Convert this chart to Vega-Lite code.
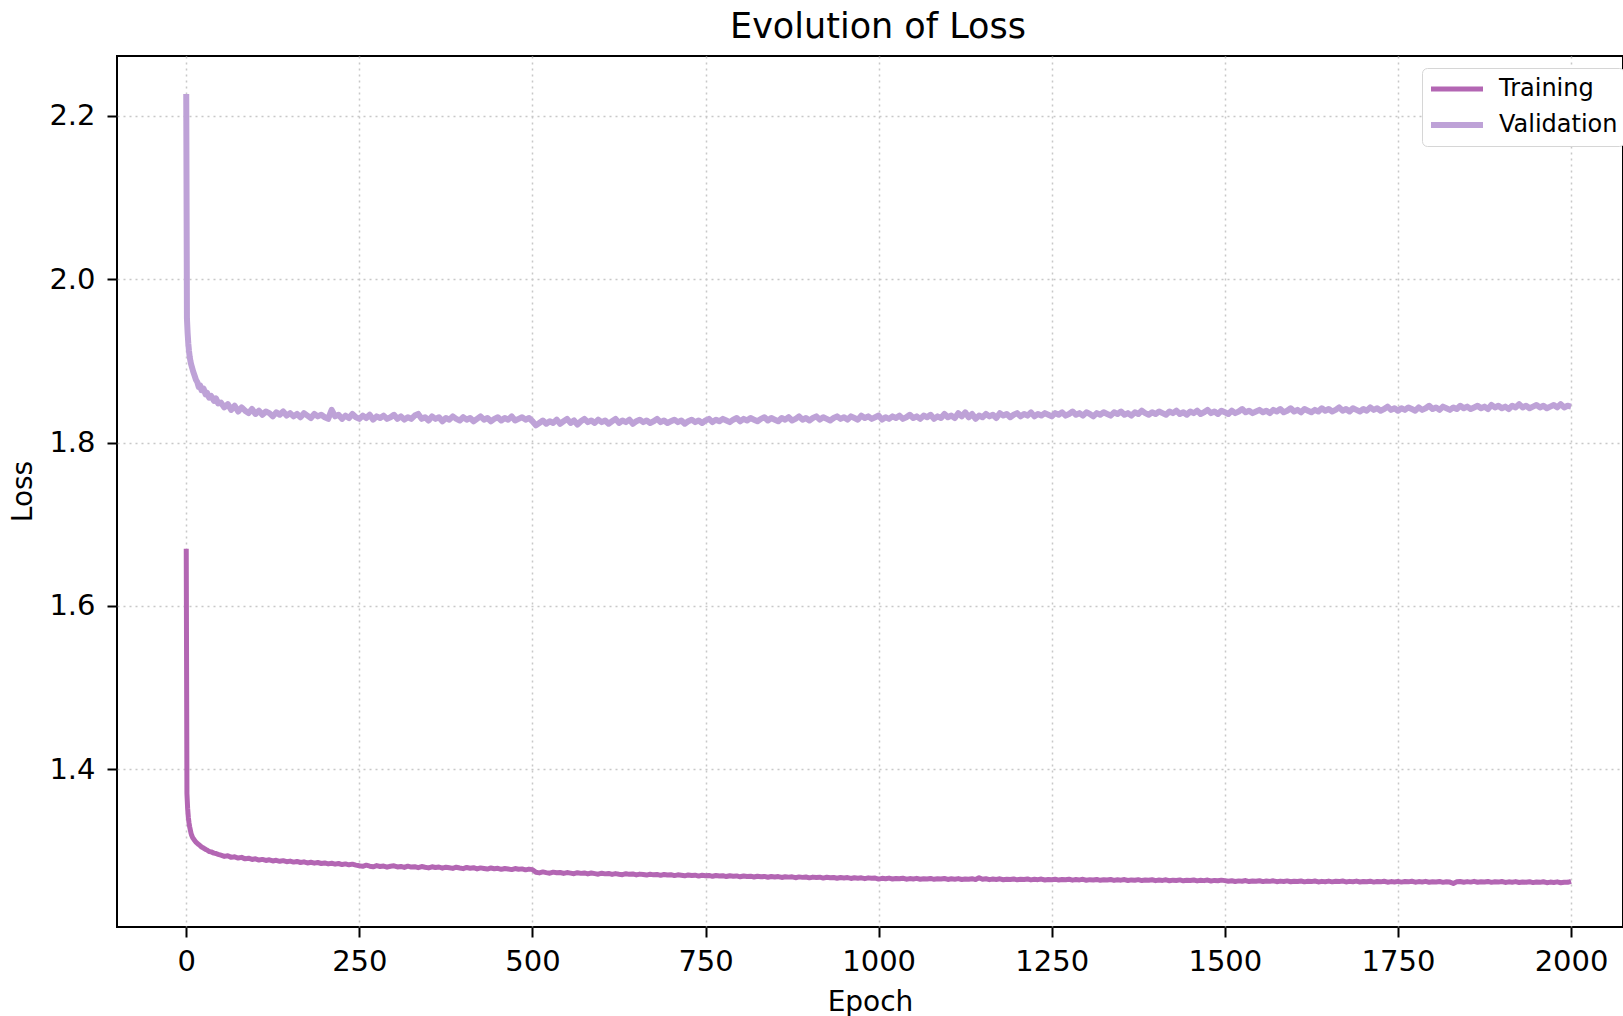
{
"$schema": "https://vega.github.io/schema/vega-lite/v6.json",
"width": 1506,
"height": 871,
"autosize": {"type": "none"},
"padding": {"left": 117, "top": 56, "right": 0, "bottom": 89},
"background": "white",
"config": {"font": "DejaVu Sans", "view": {"stroke": "black", "strokeWidth": 2}},
"title": {"text": "Evolution of Loss", "fontSize": 35, "fontWeight": "normal", "font": "DejaVu Sans", "color": "black", "anchor": "middle", "dx": 8, "dy": 34, "offset": 17, "baseline": "alphabetic"},
"data": {"values": [
{"e":0,"Training":1.670,"Validation":2.227},
{"e":1,"Training":1.370,"Validation":1.952},
{"e":2,"Training":1.352,"Validation":1.934},
{"e":3,"Training":1.341,"Validation":1.921},
{"e":4,"Training":1.334,"Validation":1.912},
{"e":5,"Training":1.329,"Validation":1.905},
{"e":6,"Training":1.325,"Validation":1.900},
{"e":7,"Training":1.321,"Validation":1.896},
{"e":8,"Training":1.3185,"Validation":1.893},
{"e":9,"Training":1.3165,"Validation":1.890},
{"e":10,"Training":1.3150,"Validation":1.887},
{"e":12,"Training":1.3125,"Validation":1.882},
{"e":14,"Training":1.3105,"Validation":1.877},
{"e":16,"Training":1.3090,"Validation":1.874},
{"e":18,"Training":1.3075,"Validation":1.868},
{"e":20,"Training":1.3062,"Validation":1.870},
{"e":22,"Training":1.3045,"Validation":1.864},
{"e":25,"Training":1.3032,"Validation":1.866},
{"e":28,"Training":1.3015,"Validation":1.859},
{"e":30,"Training":1.3008,"Validation":1.861},
{"e":33,"Training":1.2990,"Validation":1.855},
{"e":36,"Training":1.2985,"Validation":1.857},
{"e":40,"Training":1.2970,"Validation":1.851},
{"e":43,"Training":1.2965,"Validation":1.854},
{"e":46,"Training":1.2955,"Validation":1.848},
{"e":50,"Training":1.2945,"Validation":1.849},
{"e":55,"Training":1.2930,"Validation":1.843},
{"e":60,"Training":1.2938,"Validation":1.847},
{"e":65,"Training":1.2918,"Validation":1.840},
{"e":70,"Training":1.2925,"Validation":1.845},
{"e":75,"Training":1.2910,"Validation":1.838},
{"e":80,"Training":1.2918,"Validation":1.843},
{"e":85,"Training":1.2900,"Validation":1.839},
{"e":90,"Training":1.2908,"Validation":1.836},
{"e":95,"Training":1.2893,"Validation":1.841},
{"e":100,"Training":1.2900,"Validation":1.835},
{"e":105,"Training":1.2885,"Validation":1.839},
{"e":110,"Training":1.2893,"Validation":1.834},
{"e":115,"Training":1.2880,"Validation":1.838},
{"e":120,"Training":1.2888,"Validation":1.836},
{"e":125,"Training":1.2874,"Validation":1.832},
{"e":130,"Training":1.2882,"Validation":1.837},
{"e":135,"Training":1.2870,"Validation":1.834},
{"e":140,"Training":1.2878,"Validation":1.838},
{"e":145,"Training":1.2865,"Validation":1.833},
{"e":150,"Training":1.2872,"Validation":1.836},
{"e":155,"Training":1.2860,"Validation":1.832},
{"e":160,"Training":1.2868,"Validation":1.835},
{"e":165,"Training":1.2855,"Validation":1.831},
{"e":170,"Training":1.2863,"Validation":1.836},
{"e":175,"Training":1.2850,"Validation":1.833},
{"e":180,"Training":1.2858,"Validation":1.830},
{"e":185,"Training":1.2847,"Validation":1.835},
{"e":190,"Training":1.2855,"Validation":1.832},
{"e":195,"Training":1.2843,"Validation":1.834},
{"e":200,"Training":1.2850,"Validation":1.831},
{"e":205,"Training":1.2838,"Validation":1.829},
{"e":210,"Training":1.2846,"Validation":1.840},
{"e":215,"Training":1.2835,"Validation":1.832},
{"e":220,"Training":1.2843,"Validation":1.834},
{"e":225,"Training":1.2830,"Validation":1.829},
{"e":230,"Training":1.2838,"Validation":1.833},
{"e":235,"Training":1.2827,"Validation":1.830},
{"e":240,"Training":1.2835,"Validation":1.835},
{"e":245,"Training":1.2823,"Validation":1.831},
{"e":250,"Training":1.2815,"Validation":1.829},
{"e":255,"Training":1.2808,"Validation":1.833},
{"e":260,"Training":1.2822,"Validation":1.830},
{"e":265,"Training":1.2810,"Validation":1.834},
{"e":270,"Training":1.2803,"Validation":1.828},
{"e":275,"Training":1.2817,"Validation":1.832},
{"e":280,"Training":1.2806,"Validation":1.830},
{"e":285,"Training":1.2812,"Validation":1.833},
{"e":290,"Training":1.2798,"Validation":1.829},
{"e":295,"Training":1.2809,"Validation":1.831},
{"e":300,"Training":1.2815,"Validation":1.834},
{"e":305,"Training":1.2801,"Validation":1.829},
{"e":310,"Training":1.2807,"Validation":1.832},
{"e":315,"Training":1.2795,"Validation":1.828},
{"e":320,"Training":1.2810,"Validation":1.831},
{"e":325,"Training":1.2799,"Validation":1.829},
{"e":330,"Training":1.2804,"Validation":1.833},
{"e":335,"Training":1.2792,"Validation":1.835},
{"e":340,"Training":1.2806,"Validation":1.829},
{"e":345,"Training":1.2797,"Validation":1.831},
{"e":350,"Training":1.2789,"Validation":1.827},
{"e":355,"Training":1.2803,"Validation":1.832},
{"e":360,"Training":1.2794,"Validation":1.829},
{"e":365,"Training":1.2800,"Validation":1.831},
{"e":370,"Training":1.2786,"Validation":1.826},
{"e":375,"Training":1.2798,"Validation":1.830},
{"e":380,"Training":1.2791,"Validation":1.828},
{"e":385,"Training":1.2783,"Validation":1.832},
{"e":390,"Training":1.2797,"Validation":1.829},
{"e":395,"Training":1.2788,"Validation":1.827},
{"e":400,"Training":1.2780,"Validation":1.831},
{"e":405,"Training":1.2794,"Validation":1.828},
{"e":410,"Training":1.2785,"Validation":1.830},
{"e":415,"Training":1.2791,"Validation":1.826},
{"e":420,"Training":1.2777,"Validation":1.829},
{"e":425,"Training":1.2789,"Validation":1.832},
{"e":430,"Training":1.2782,"Validation":1.828},
{"e":435,"Training":1.2775,"Validation":1.830},
{"e":440,"Training":1.2788,"Validation":1.826},
{"e":445,"Training":1.2779,"Validation":1.829},
{"e":450,"Training":1.2784,"Validation":1.831},
{"e":455,"Training":1.2771,"Validation":1.827},
{"e":460,"Training":1.2782,"Validation":1.830},
{"e":465,"Training":1.2775,"Validation":1.828},
{"e":470,"Training":1.2768,"Validation":1.832},
{"e":475,"Training":1.2781,"Validation":1.827},
{"e":480,"Training":1.2772,"Validation":1.829},
{"e":485,"Training":1.2777,"Validation":1.831},
{"e":490,"Training":1.2765,"Validation":1.828},
{"e":495,"Training":1.2774,"Validation":1.830},
{"e":500,"Training":1.2768,"Validation":1.826},
{"e":505,"Training":1.2735,"Validation":1.821},
{"e":510,"Training":1.2728,"Validation":1.824},
{"e":515,"Training":1.2740,"Validation":1.827},
{"e":520,"Training":1.2731,"Validation":1.823},
{"e":525,"Training":1.2724,"Validation":1.826},
{"e":530,"Training":1.2737,"Validation":1.824},
{"e":535,"Training":1.2729,"Validation":1.828},
{"e":540,"Training":1.2733,"Validation":1.823},
{"e":545,"Training":1.2721,"Validation":1.826},
{"e":550,"Training":1.2732,"Validation":1.829},
{"e":555,"Training":1.2725,"Validation":1.824},
{"e":560,"Training":1.2718,"Validation":1.827},
{"e":565,"Training":1.2730,"Validation":1.822},
{"e":570,"Training":1.2722,"Validation":1.826},
{"e":575,"Training":1.2727,"Validation":1.829},
{"e":580,"Training":1.2715,"Validation":1.825},
{"e":585,"Training":1.2726,"Validation":1.827},
{"e":590,"Training":1.2719,"Validation":1.824},
{"e":595,"Training":1.2712,"Validation":1.828},
{"e":600,"Training":1.2724,"Validation":1.825},
{"e":605,"Training":1.2716,"Validation":1.827},
{"e":610,"Training":1.2721,"Validation":1.823},
{"e":615,"Training":1.2709,"Validation":1.826},
{"e":620,"Training":1.2719,"Validation":1.829},
{"e":625,"Training":1.2712,"Validation":1.824},
{"e":630,"Training":1.2706,"Validation":1.827},
{"e":635,"Training":1.2718,"Validation":1.825},
{"e":640,"Training":1.2710,"Validation":1.828},
{"e":645,"Training":1.2715,"Validation":1.823},
{"e":650,"Training":1.2703,"Validation":1.826},
{"e":655,"Training":1.2713,"Validation":1.828},
{"e":660,"Training":1.2707,"Validation":1.825},
{"e":665,"Training":1.2701,"Validation":1.827},
{"e":670,"Training":1.2712,"Validation":1.824},
{"e":675,"Training":1.2704,"Validation":1.826},
{"e":680,"Training":1.2709,"Validation":1.829},
{"e":685,"Training":1.2698,"Validation":1.825},
{"e":690,"Training":1.2708,"Validation":1.827},
{"e":695,"Training":1.2701,"Validation":1.824},
{"e":700,"Training":1.2706,"Validation":1.826},
{"e":705,"Training":1.2695,"Validation":1.828},
{"e":710,"Training":1.2704,"Validation":1.825},
{"e":715,"Training":1.2698,"Validation":1.827},
{"e":720,"Training":1.2692,"Validation":1.823},
{"e":725,"Training":1.2703,"Validation":1.826},
{"e":730,"Training":1.2696,"Validation":1.828},
{"e":735,"Training":1.2700,"Validation":1.825},
{"e":740,"Training":1.2689,"Validation":1.827},
{"e":745,"Training":1.2699,"Validation":1.824},
{"e":750,"Training":1.2693,"Validation":1.827},
{"e":755,"Training":1.2697,"Validation":1.829},
{"e":760,"Training":1.2686,"Validation":1.825},
{"e":765,"Training":1.2696,"Validation":1.828},
{"e":770,"Training":1.2690,"Validation":1.826},
{"e":775,"Training":1.2694,"Validation":1.829},
{"e":780,"Training":1.2683,"Validation":1.827},
{"e":785,"Training":1.2693,"Validation":1.825},
{"e":790,"Training":1.2687,"Validation":1.828},
{"e":795,"Training":1.2691,"Validation":1.830},
{"e":800,"Training":1.2680,"Validation":1.826},
{"e":805,"Training":1.2690,"Validation":1.829},
{"e":810,"Training":1.2684,"Validation":1.827},
{"e":815,"Training":1.2688,"Validation":1.830},
{"e":820,"Training":1.2677,"Validation":1.828},
{"e":825,"Training":1.2687,"Validation":1.826},
{"e":830,"Training":1.2681,"Validation":1.829},
{"e":835,"Training":1.2685,"Validation":1.831},
{"e":840,"Training":1.2675,"Validation":1.827},
{"e":845,"Training":1.2684,"Validation":1.830},
{"e":850,"Training":1.2678,"Validation":1.828},
{"e":855,"Training":1.2683,"Validation":1.826},
{"e":860,"Training":1.2672,"Validation":1.830},
{"e":865,"Training":1.2681,"Validation":1.828},
{"e":870,"Training":1.2676,"Validation":1.831},
{"e":875,"Training":1.2680,"Validation":1.827},
{"e":880,"Training":1.2669,"Validation":1.829},
{"e":885,"Training":1.2679,"Validation":1.832},
{"e":890,"Training":1.2673,"Validation":1.828},
{"e":895,"Training":1.2677,"Validation":1.830},
{"e":900,"Training":1.2667,"Validation":1.827},
{"e":905,"Training":1.2676,"Validation":1.830},
{"e":910,"Training":1.2671,"Validation":1.832},
{"e":915,"Training":1.2675,"Validation":1.828},
{"e":920,"Training":1.2664,"Validation":1.831},
{"e":925,"Training":1.2674,"Validation":1.829},
{"e":930,"Training":1.2668,"Validation":1.827},
{"e":935,"Training":1.2672,"Validation":1.830},
{"e":940,"Training":1.2662,"Validation":1.832},
{"e":945,"Training":1.2671,"Validation":1.829},
{"e":950,"Training":1.2666,"Validation":1.831},
{"e":955,"Training":1.2670,"Validation":1.828},
{"e":960,"Training":1.2660,"Validation":1.832},
{"e":965,"Training":1.2669,"Validation":1.830},
{"e":970,"Training":1.2663,"Validation":1.828},
{"e":975,"Training":1.2667,"Validation":1.833},
{"e":980,"Training":1.2657,"Validation":1.830},
{"e":985,"Training":1.2667,"Validation":1.832},
{"e":990,"Training":1.2661,"Validation":1.829},
{"e":995,"Training":1.2665,"Validation":1.831},
{"e":1000,"Training":1.2652,"Validation":1.833},
{"e":1005,"Training":1.2661,"Validation":1.828},
{"e":1010,"Training":1.2656,"Validation":1.831},
{"e":1015,"Training":1.2664,"Validation":1.829},
{"e":1020,"Training":1.2653,"Validation":1.832},
{"e":1025,"Training":1.2660,"Validation":1.830},
{"e":1030,"Training":1.2655,"Validation":1.833},
{"e":1035,"Training":1.2662,"Validation":1.829},
{"e":1040,"Training":1.2651,"Validation":1.831},
{"e":1045,"Training":1.2658,"Validation":1.834},
{"e":1050,"Training":1.2654,"Validation":1.830},
{"e":1055,"Training":1.2661,"Validation":1.832},
{"e":1060,"Training":1.2650,"Validation":1.829},
{"e":1065,"Training":1.2657,"Validation":1.833},
{"e":1070,"Training":1.2653,"Validation":1.831},
{"e":1075,"Training":1.2660,"Validation":1.834},
{"e":1080,"Training":1.2649,"Validation":1.829},
{"e":1085,"Training":1.2656,"Validation":1.832},
{"e":1090,"Training":1.2652,"Validation":1.830},
{"e":1095,"Training":1.2659,"Validation":1.835},
{"e":1100,"Training":1.2648,"Validation":1.831},
{"e":1105,"Training":1.2655,"Validation":1.833},
{"e":1110,"Training":1.2651,"Validation":1.830},
{"e":1115,"Training":1.2658,"Validation":1.836},
{"e":1120,"Training":1.2647,"Validation":1.832},
{"e":1125,"Training":1.2654,"Validation":1.837},
{"e":1130,"Training":1.2650,"Validation":1.831},
{"e":1135,"Training":1.2657,"Validation":1.835},
{"e":1140,"Training":1.2646,"Validation":1.829},
{"e":1145,"Training":1.2668,"Validation":1.833},
{"e":1150,"Training":1.2649,"Validation":1.831},
{"e":1155,"Training":1.2656,"Validation":1.835},
{"e":1160,"Training":1.2645,"Validation":1.832},
{"e":1165,"Training":1.2652,"Validation":1.834},
{"e":1170,"Training":1.2648,"Validation":1.830},
{"e":1175,"Training":1.2655,"Validation":1.836},
{"e":1180,"Training":1.2644,"Validation":1.833},
{"e":1185,"Training":1.2651,"Validation":1.835},
{"e":1190,"Training":1.2647,"Validation":1.831},
{"e":1195,"Training":1.2654,"Validation":1.834},
{"e":1200,"Training":1.2643,"Validation":1.836},
{"e":1205,"Training":1.2650,"Validation":1.832},
{"e":1210,"Training":1.2646,"Validation":1.835},
{"e":1215,"Training":1.2653,"Validation":1.833},
{"e":1220,"Training":1.2642,"Validation":1.837},
{"e":1225,"Training":1.2649,"Validation":1.832},
{"e":1230,"Training":1.2645,"Validation":1.835},
{"e":1235,"Training":1.2652,"Validation":1.833},
{"e":1240,"Training":1.2641,"Validation":1.836},
{"e":1245,"Training":1.2648,"Validation":1.834},
{"e":1250,"Training":1.2644,"Validation":1.832},
{"e":1255,"Training":1.2651,"Validation":1.836},
{"e":1260,"Training":1.2640,"Validation":1.834},
{"e":1265,"Training":1.2647,"Validation":1.837},
{"e":1270,"Training":1.2643,"Validation":1.833},
{"e":1275,"Training":1.2650,"Validation":1.835},
{"e":1280,"Training":1.2639,"Validation":1.838},
{"e":1285,"Training":1.2646,"Validation":1.834},
{"e":1290,"Training":1.2642,"Validation":1.836},
{"e":1295,"Training":1.2649,"Validation":1.833},
{"e":1300,"Training":1.2638,"Validation":1.837},
{"e":1305,"Training":1.2645,"Validation":1.835},
{"e":1310,"Training":1.2641,"Validation":1.832},
{"e":1315,"Training":1.2648,"Validation":1.836},
{"e":1320,"Training":1.2637,"Validation":1.834},
{"e":1325,"Training":1.2644,"Validation":1.837},
{"e":1330,"Training":1.2640,"Validation":1.835},
{"e":1335,"Training":1.2647,"Validation":1.833},
{"e":1340,"Training":1.2636,"Validation":1.837},
{"e":1345,"Training":1.2643,"Validation":1.835},
{"e":1350,"Training":1.2639,"Validation":1.838},
{"e":1355,"Training":1.2646,"Validation":1.834},
{"e":1360,"Training":1.2635,"Validation":1.836},
{"e":1365,"Training":1.2642,"Validation":1.833},
{"e":1370,"Training":1.2638,"Validation":1.837},
{"e":1375,"Training":1.2645,"Validation":1.835},
{"e":1380,"Training":1.2634,"Validation":1.839},
{"e":1385,"Training":1.2641,"Validation":1.836},
{"e":1390,"Training":1.2637,"Validation":1.834},
{"e":1395,"Training":1.2644,"Validation":1.837},
{"e":1400,"Training":1.2633,"Validation":1.835},
{"e":1405,"Training":1.2640,"Validation":1.838},
{"e":1410,"Training":1.2636,"Validation":1.836},
{"e":1415,"Training":1.2643,"Validation":1.834},
{"e":1420,"Training":1.2632,"Validation":1.838},
{"e":1425,"Training":1.2639,"Validation":1.836},
{"e":1430,"Training":1.2635,"Validation":1.839},
{"e":1435,"Training":1.2642,"Validation":1.835},
{"e":1440,"Training":1.2631,"Validation":1.837},
{"e":1445,"Training":1.2638,"Validation":1.834},
{"e":1450,"Training":1.2634,"Validation":1.838},
{"e":1455,"Training":1.2641,"Validation":1.836},
{"e":1460,"Training":1.2630,"Validation":1.839},
{"e":1465,"Training":1.2637,"Validation":1.835},
{"e":1470,"Training":1.2633,"Validation":1.837},
{"e":1475,"Training":1.2640,"Validation":1.840},
{"e":1480,"Training":1.2629,"Validation":1.836},
{"e":1485,"Training":1.2636,"Validation":1.838},
{"e":1490,"Training":1.2632,"Validation":1.835},
{"e":1495,"Training":1.2639,"Validation":1.839},
{"e":1500,"Training":1.2633,"Validation":1.837},
{"e":1505,"Training":1.2625,"Validation":1.835},
{"e":1510,"Training":1.2632,"Validation":1.839},
{"e":1515,"Training":1.2623,"Validation":1.836},
{"e":1520,"Training":1.2630,"Validation":1.838},
{"e":1525,"Training":1.2626,"Validation":1.841},
{"e":1530,"Training":1.2634,"Validation":1.837},
{"e":1535,"Training":1.2622,"Validation":1.839},
{"e":1540,"Training":1.2629,"Validation":1.836},
{"e":1545,"Training":1.2625,"Validation":1.838},
{"e":1550,"Training":1.2632,"Validation":1.840},
{"e":1555,"Training":1.2621,"Validation":1.837},
{"e":1560,"Training":1.2628,"Validation":1.839},
{"e":1565,"Training":1.2624,"Validation":1.836},
{"e":1570,"Training":1.2631,"Validation":1.840},
{"e":1575,"Training":1.2620,"Validation":1.838},
{"e":1580,"Training":1.2627,"Validation":1.841},
{"e":1585,"Training":1.2623,"Validation":1.837},
{"e":1590,"Training":1.2630,"Validation":1.839},
{"e":1595,"Training":1.2619,"Validation":1.842},
{"e":1600,"Training":1.2626,"Validation":1.838},
{"e":1605,"Training":1.2622,"Validation":1.840},
{"e":1610,"Training":1.2629,"Validation":1.837},
{"e":1615,"Training":1.2618,"Validation":1.841},
{"e":1620,"Training":1.2625,"Validation":1.839},
{"e":1625,"Training":1.2621,"Validation":1.837},
{"e":1630,"Training":1.2628,"Validation":1.840},
{"e":1635,"Training":1.2617,"Validation":1.838},
{"e":1640,"Training":1.2624,"Validation":1.842},
{"e":1645,"Training":1.2620,"Validation":1.839},
{"e":1650,"Training":1.2627,"Validation":1.841},
{"e":1655,"Training":1.2618,"Validation":1.838},
{"e":1660,"Training":1.2625,"Validation":1.840},
{"e":1665,"Training":1.2621,"Validation":1.843},
{"e":1670,"Training":1.2628,"Validation":1.839},
{"e":1675,"Training":1.2617,"Validation":1.841},
{"e":1680,"Training":1.2624,"Validation":1.838},
{"e":1685,"Training":1.2620,"Validation":1.842},
{"e":1690,"Training":1.2627,"Validation":1.840},
{"e":1695,"Training":1.2616,"Validation":1.838},
{"e":1700,"Training":1.2623,"Validation":1.841},
{"e":1705,"Training":1.2619,"Validation":1.839},
{"e":1710,"Training":1.2626,"Validation":1.843},
{"e":1715,"Training":1.2615,"Validation":1.840},
{"e":1720,"Training":1.2622,"Validation":1.842},
{"e":1725,"Training":1.2618,"Validation":1.839},
{"e":1730,"Training":1.2625,"Validation":1.841},
{"e":1735,"Training":1.2614,"Validation":1.844},
{"e":1740,"Training":1.2621,"Validation":1.840},
{"e":1745,"Training":1.2617,"Validation":1.842},
{"e":1750,"Training":1.2624,"Validation":1.839},
{"e":1755,"Training":1.2615,"Validation":1.842},
{"e":1760,"Training":1.2622,"Validation":1.840},
{"e":1765,"Training":1.2618,"Validation":1.843},
{"e":1770,"Training":1.2625,"Validation":1.841},
{"e":1775,"Training":1.2614,"Validation":1.839},
{"e":1780,"Training":1.2621,"Validation":1.843},
{"e":1785,"Training":1.2617,"Validation":1.840},
{"e":1790,"Training":1.2624,"Validation":1.842},
{"e":1795,"Training":1.2613,"Validation":1.845},
{"e":1800,"Training":1.2620,"Validation":1.841},
{"e":1805,"Training":1.2616,"Validation":1.843},
{"e":1810,"Training":1.2623,"Validation":1.840},
{"e":1815,"Training":1.2612,"Validation":1.844},
{"e":1820,"Training":1.2619,"Validation":1.842},
{"e":1825,"Training":1.2615,"Validation":1.840},
{"e":1830,"Training":1.2598,"Validation":1.843},
{"e":1835,"Training":1.2618,"Validation":1.841},
{"e":1840,"Training":1.2622,"Validation":1.845},
{"e":1845,"Training":1.2614,"Validation":1.842},
{"e":1850,"Training":1.2621,"Validation":1.844},
{"e":1855,"Training":1.2615,"Validation":1.841},
{"e":1860,"Training":1.2624,"Validation":1.843},
{"e":1865,"Training":1.2613,"Validation":1.845},
{"e":1870,"Training":1.2620,"Validation":1.842},
{"e":1875,"Training":1.2616,"Validation":1.844},
{"e":1880,"Training":1.2623,"Validation":1.841},
{"e":1885,"Training":1.2612,"Validation":1.846},
{"e":1890,"Training":1.2619,"Validation":1.843},
{"e":1895,"Training":1.2615,"Validation":1.845},
{"e":1900,"Training":1.2622,"Validation":1.842},
{"e":1905,"Training":1.2611,"Validation":1.844},
{"e":1910,"Training":1.2618,"Validation":1.841},
{"e":1915,"Training":1.2614,"Validation":1.845},
{"e":1920,"Training":1.2621,"Validation":1.843},
{"e":1925,"Training":1.2610,"Validation":1.847},
{"e":1930,"Training":1.2617,"Validation":1.843},
{"e":1935,"Training":1.2613,"Validation":1.845},
{"e":1940,"Training":1.2620,"Validation":1.842},
{"e":1945,"Training":1.2609,"Validation":1.844},
{"e":1950,"Training":1.2616,"Validation":1.846},
{"e":1955,"Training":1.2612,"Validation":1.843},
{"e":1960,"Training":1.2619,"Validation":1.845},
{"e":1965,"Training":1.2608,"Validation":1.842},
{"e":1970,"Training":1.2615,"Validation":1.844},
{"e":1975,"Training":1.2611,"Validation":1.846},
{"e":1980,"Training":1.2618,"Validation":1.843},
{"e":1985,"Training":1.2607,"Validation":1.847},
{"e":1990,"Training":1.2614,"Validation":1.843},
{"e":1995,"Training":1.2612,"Validation":1.845},
{"e":2000,"Training":1.2624,"Validation":1.844}
]},
"transform": [{"fold": ["Training", "Validation"], "as": ["series", "loss"]}],
"mark": {"type": "line", "clip": true, "strokeJoin": "round"},
"encoding": {
  "x": {"field": "e", "type": "quantitative",
        "scale": {"domain": [-100, 2075], "nice": false, "zero": false},
        "axis": {"values": [0, 250, 500, 750, 1000, 1250, 1500, 1750, 2000], "format": "d",
                 "title": "Epoch", "titleFontSize": 28, "titleFontWeight": "normal", "titleColor": "black", "titleFont": "DejaVu Sans",
                 "titleY": 75, "titleBaseline": "middle",
                 "labelFontSize": 29, "labelColor": "black", "labelFont": "DejaVu Sans", "labelPadding": 10, "labelFlush": false,
                 "tickSize": 10, "tickWidth": 2, "tickColor": "black", "domain": false,
                 "grid": true, "gridColor": "#c8c8c8", "gridDash": [2, 4], "gridWidth": 1.5}},
  "y": {"field": "loss", "type": "quantitative",
        "scale": {"domain": [1.2065, 2.2735], "nice": false, "zero": false},
        "axis": {"values": [1.4, 1.6, 1.8, 2.0, 2.2], "format": ".1f",
                 "title": "Loss", "titleFontSize": 28, "titleFontWeight": "normal", "titleColor": "black", "titleFont": "DejaVu Sans",
                 "titleX": -94, "titleY": 435, "titleBaseline": "middle", "titleAngle": -90,
                 "labelFontSize": 29, "labelColor": "black", "labelFont": "DejaVu Sans", "labelPadding": 12, "labelFlush": false,
                 "tickSize": 10, "tickWidth": 2, "tickColor": "black", "domain": false,
                 "grid": true, "gridColor": "#c8c8c8", "gridDash": [2, 4], "gridWidth": 1.5}},
  "strokeWidth": {"field": "series", "type": "nominal", "scale": {"domain": ["Training", "Validation"], "range": [5, 6]}, "legend": null},
  "color": {"field": "series", "type": "nominal",
            "scale": {"domain": ["Training", "Validation"], "range": ["#b366b3", "#bea2d7"]},
            "legend": {"title": null, "orient": "none", "legendX": 1305, "legendY": 12,
                       "symbolType": "stroke", "symbolStrokeWidth": 4, "symbolSize": 2704,
                       "labelFontSize": 24, "labelFont": "DejaVu Sans", "labelColor": "black", "labelOffset": 13,
                       "clipHeight": 30, "padding": 6, "rowPadding": 6, "strokeColor": "#d6d6d6", "fillColor": "white", "cornerRadius": 5}}
}
}
